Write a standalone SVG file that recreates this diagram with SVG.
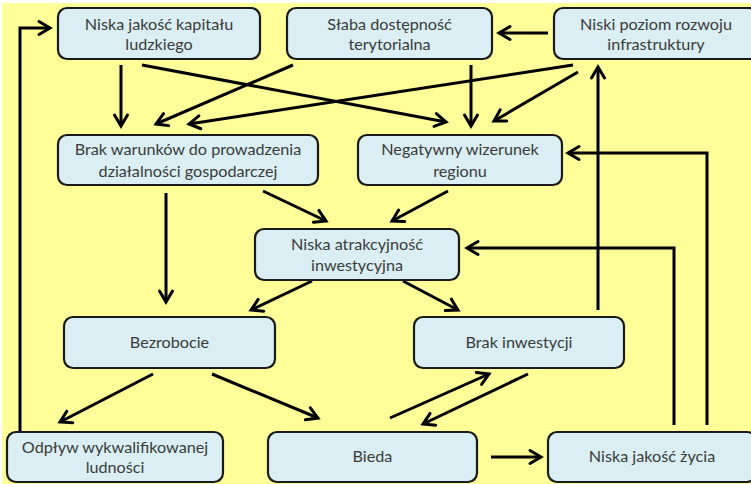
<svg xmlns="http://www.w3.org/2000/svg" width="751" height="484" viewBox="0 0 751 484">
  <defs>
    <marker id="head" markerUnits="userSpaceOnUse" markerWidth="20" markerHeight="20" viewBox="-14 -10 16 20" refX="0" refY="0" orient="auto">
      <path d="M-11,-6.5 L0,0 L-11,6.5" fill="none" stroke="#000" stroke-width="3" stroke-linejoin="miter" stroke-linecap="round"/>
    </marker>
    <style>
      .box { fill: #DAEEF3; stroke: #1a1a1a; stroke-width: 2.2; }
      .lbl { font-family: Lato, "Open Sans", "Liberation Sans", sans-serif; font-size: 16.2px; fill: #3b3b3b; text-anchor: middle; }
      .edge { fill: none; stroke: #000; stroke-width: 3; marker-end: url(#head); }
    </style>
  </defs>

  <rect x="0" y="0" width="751" height="484" fill="#ffffff"/>
  <rect x="2" y="3" width="749" height="481" fill="#FFFF99"/>

  <g id="connectors">
    <!-- top row -->
    <line class="edge" x1="548" y1="33" x2="499" y2="33"/>
    <line class="edge" x1="121" y1="65" x2="121" y2="126"/>
    <line class="edge" x1="142" y1="65" x2="446" y2="122"/>
    <line class="edge" x1="293" y1="65" x2="156" y2="124"/>
    <line class="edge" x1="573" y1="65" x2="189" y2="124"/>
    <line class="edge" x1="471" y1="65" x2="471" y2="126"/>
    <line class="edge" x1="578" y1="72" x2="494" y2="121"/>
    <!-- into investment attractiveness -->
    <line class="edge" x1="263" y1="191" x2="326" y2="221"/>
    <line class="edge" x1="448" y1="191" x2="392" y2="221"/>
    <!-- second level -->
    <line class="edge" x1="166" y1="193" x2="166" y2="302"/>
    <line class="edge" x1="312" y1="281" x2="251" y2="310"/>
    <line class="edge" x1="403" y1="281" x2="458" y2="310"/>
    <!-- bottom level -->
    <line class="edge" x1="153" y1="374" x2="60" y2="422"/>
    <line class="edge" x1="212" y1="374" x2="318" y2="418"/>
    <line class="edge" x1="390" y1="418" x2="489" y2="374"/>
    <line class="edge" x1="528" y1="374" x2="423" y2="424"/>
    <line class="edge" x1="491" y1="457" x2="541" y2="457"/>
    <!-- feedback loops -->
    <polyline class="edge" points="674,425 674,248 467,248"/>
    <polyline class="edge" points="707,425 707,153 568,153"/>
    <line class="edge" x1="598" y1="310" x2="598" y2="67"/>
    <polyline class="edge" points="20,431 20,28 50,28"/>
  </g>

  <g id="kapital">
    <rect class="box" x="58" y="8" width="202" height="51" rx="9"/>
    <text class="lbl" x="159" y="30">Niska jakość kapitału</text>
    <text class="lbl" x="159" y="50">ludzkiego</text>
  </g>
  <g id="dostepnosc">
    <rect class="box" x="287" y="8" width="205" height="51" rx="9"/>
    <text class="lbl" x="389.5" y="30">Słaba dostępność</text>
    <text class="lbl" x="389.5" y="50">terytorialna</text>
  </g>
  <g id="infrastruktura">
    <rect class="box" x="554" y="8" width="204" height="51" rx="9"/>
    <text class="lbl" x="656" y="30">Niski poziom rozwoju</text>
    <text class="lbl" x="656" y="50">infrastruktury</text>
  </g>
  <g id="warunki">
    <rect class="box" x="58" y="135" width="260" height="50" rx="9"/>
    <text class="lbl" x="188" y="155">Brak warunków do prowadzenia</text>
    <text class="lbl" x="188" y="177">działalności gospodarczej</text>
  </g>
  <g id="wizerunek">
    <rect class="box" x="358" y="135" width="204" height="50" rx="9"/>
    <text class="lbl" x="460" y="155">Negatywny wizerunek</text>
    <text class="lbl" x="460" y="177">regionu</text>
  </g>
  <g id="atrakcyjnosc">
    <rect class="box" x="255" y="229" width="204" height="51" rx="9"/>
    <text class="lbl" x="357" y="250">Niska atrakcyjność</text>
    <text class="lbl" x="357" y="271">inwestycyjna</text>
  </g>
  <g id="bezrobocie">
    <rect class="box" x="64" y="317" width="211" height="51" rx="9"/>
    <text class="lbl" x="169.5" y="348">Bezrobocie</text>
  </g>
  <g id="inwestycje">
    <rect class="box" x="414" y="317" width="210" height="51" rx="9"/>
    <text class="lbl" x="519" y="348">Brak inwestycji</text>
  </g>
  <g id="odplyw">
    <rect class="box" x="7" y="432" width="216" height="50" rx="9"/>
    <text class="lbl" x="115" y="453">Odpływ wykwalifikowanej</text>
    <text class="lbl" x="115" y="473">ludności</text>
  </g>
  <g id="bieda">
    <rect class="box" x="268" y="432" width="209" height="50" rx="9"/>
    <text class="lbl" x="372.5" y="462">Bieda</text>
  </g>
  <g id="jakosc-zycia">
    <rect class="box" x="548" y="432" width="208" height="50" rx="9"/>
    <text class="lbl" x="652" y="462">Niska jakość życia</text>
  </g>
</svg>
